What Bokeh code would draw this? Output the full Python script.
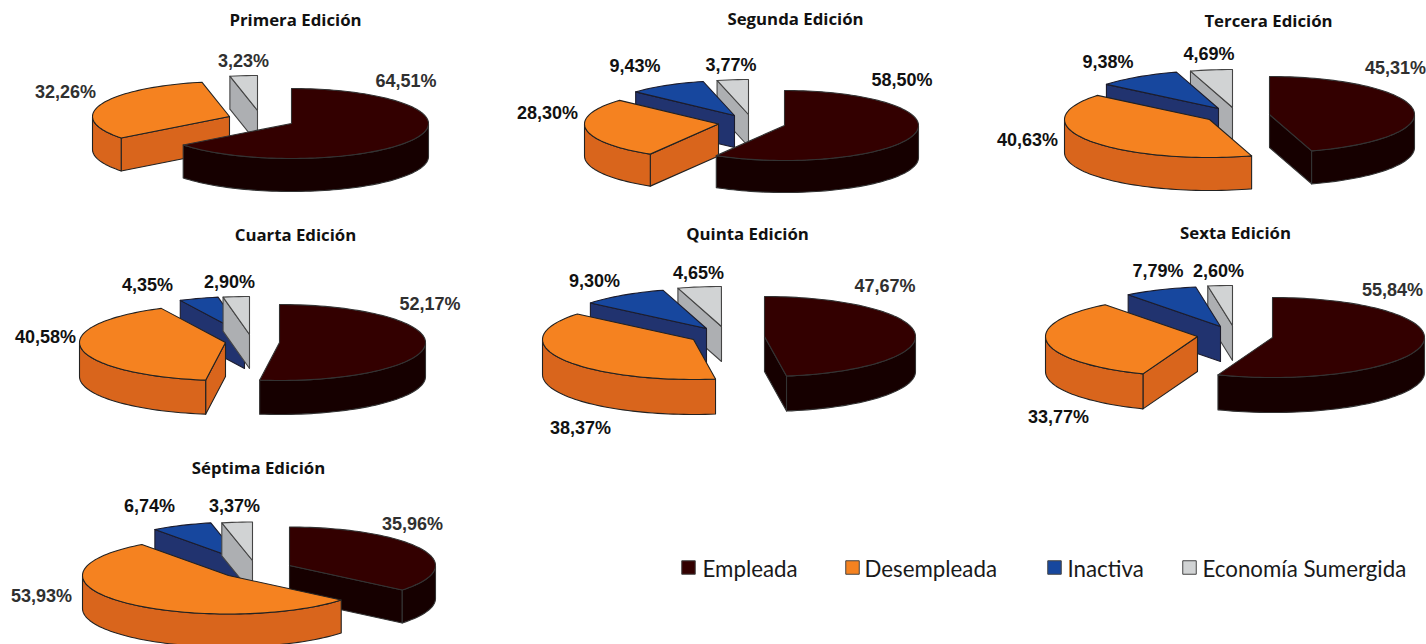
import math
from bokeh.plotting import figure
from bokeh.models import Range1d, ColumnDataSource
from bokeh.core.properties import value
from bokeh.embed import file_html
from bokeh.resources import INLINE

# ---- data -------------------------------------------------------------
editions = ["Primera Edición", "Segunda Edición", "Tercera Edición", "Cuarta Edición",
            "Quinta Edición", "Sexta Edición", "Séptima Edición"]
series = ["Empleada", "Desempleada", "Inactiva", "Economía Sumergida"]
empleada = [64.51, 58.50, 45.31, 52.17, 47.67, 55.84, 35.96]
desempleada = [32.26, 28.30, 40.63, 40.58, 38.37, 33.77, 53.93]
inactiva = [0.0, 9.43, 9.38, 4.35, 9.30, 7.79, 6.74]
sumergida = [3.23, 3.77, 4.69, 2.90, 4.65, 2.60, 3.37]

# ---- layout (window pixels) ---------------------------------------------
# ellipse radii and depth of each pie
radii = [(137, 35, 33), (134, 35, 32), (145, 38, 33), (146, 38, 34),
         (151, 40, 35), (152, 40, 35), (146, 38.5, 33)]
# apex of each exploded slice: empleada, desempleada, inactiva, sumergida
apexes = [
    [(291, 123), (229, 116), None, (257, 110)],
    [(784, 125), (718, 123.5), (734, 115), (748, 114)],
    [(1269, 114), (1209, 119), (1218, 108), (1232, 107)],
    [(279, 342), (225, 342), (244, 334), (249, 334)],
    [(764, 336), (693, 339), (706, 328), (721, 326)],
    [(1272, 337), (1197, 336), (1220, 326), (1232, 325)],
    [(289, 565), (228, 575), (241, 560), (252, 560)],
]
title_pos = [(295, 19), (795, 18), (1268, 20), (295, 234), (747, 233), (1235, 232), (258, 467)]
label_pos = [
    [(405.5, 80), (65, 91), None, (243, 60)],
    [(901.5, 79), (547, 112), (634.5, 65), (730.5, 64)],
    [(1395, 67), (1027, 139), (1107.5, 61), (1208.5, 53)],
    [(429.5, 303), (45, 336), (147, 284), (229, 281)],
    [(884.5, 285), (580, 427), (594, 280), (698, 272)],
    [(1392, 289), (1058, 416), (1157.5, 270), (1218, 270)],
    [(412, 523), (41, 595), (149, 505), (234, 505)],
]
# labels that are printed in a softer grey in the source, as (edition, series)
soft_labels = {(0, 0), (0, 1), (0, 3), (2, 0), (3, 0), (4, 0), (5, 0), (6, 0), (6, 1)}
top_col = ["#330000", "#F58220", "#17479E", "#D1D3D4"]
side_col = ["#160000", "#D9651C", "#21336F", "#ADAFB2"]
edge_col = ["#333333", "#222222", "#1c1c2c", "#444444"]
legend_square_x = [688, 852, 1054, 1189]
legend_text_x = [702, 864, 1067, 1202]
legend_y = 568


def pt(c, rx, ry, deg, dz=0):
    t = math.radians(deg)
    return (c[0] + rx * math.sin(t), c[1] - ry * math.cos(t) + dz)


def arc(c, rx, ry, a0, a1, dz=0):
    n = max(2, int(abs(a1 - a0) / 2) + 1)
    return [pt(c, rx, ry, a0 + (a1 - a0) * i / (n - 1), dz) for i in range(n)]


xs, ys, fills, lines = [], [], [], []


def add(poly, fill, line):
    xs.append([p[0] for p in poly])
    ys.append([p[1] for p in poly])
    fills.append(fill)
    lines.append(line)


for e in range(len(editions)):
    vals = [empleada[e], desempleada[e], inactiva[e], sumergida[e]]
    rx, ry, d = radii[e]
    spans, acc = [], 0.0
    for v in vals:
        spans.append((acc * 3.6, (acc + v) * 3.6))
        acc += v
    order = [i for i in range(4) if vals[i] > 0]
    order.sort(key=lambda i: apexes[e][i][1])
    for i in order:
        c = apexes[e][i]
        a0, a1 = spans[i]
        a1 = min(a1, 360.0)
        side, edge = side_col[i], edge_col[i]
        for ang, visible in ((a0, math.sin(math.radians(a0)) < -1e-6),
                             (a1, math.sin(math.radians(a1)) > 1e-6)):
            if visible:
                q = pt(c, rx, ry, ang)
                add([c, q, (q[0], q[1] + d), (c[0], c[1] + d)], side, edge)
        lo, hi = max(a0, 90), min(a1, 270)
        if hi > lo:
            top = arc(c, rx, ry, lo, hi)
            bot = arc(c, rx, ry, hi, lo, d)
            add(top + bot, side, edge)
        add([c] + arc(c, rx, ry, a0, a1), top_col[i], edge)

p = figure(width=1426, height=644, output_backend="svg", toolbar_location=None,
           x_range=Range1d(0, 1426), y_range=Range1d(644, 0),
           min_border=0, outline_line_color=None,
           background_fill_color="white", border_fill_color="white")
p.axis.visible = False
p.grid.visible = False

p.patches("xs", "ys", source=ColumnDataSource(dict(xs=xs, ys=ys, f=fills, l=lines)),
          fill_color="f", line_color="l", line_width=1.1, line_join="round")

# value labels
lx, ly, lt, lc = [], [], [], []
for e in range(len(editions)):
    vals = [empleada[e], desempleada[e], inactiva[e], sumergida[e]]
    for i in range(4):
        if label_pos[e][i] is not None:
            lx.append(label_pos[e][i][0])
            ly.append(label_pos[e][i][1])
            lt.append(f"{vals[i]:.2f}".replace(".", ",") + "%")
            lc.append("#303030" if (e, i) in soft_labels else "#111111")
p.text(lx, ly, text=lt, text_font=value("Liberation Sans"), text_font_style="bold",
       text_font_size="18px", text_color=lc, text_align="center", text_baseline="middle")

# titles
p.text([q[0] for q in title_pos], [q[1] for q in title_pos], text=editions,
       text_font=value("Open Sans"), text_font_style="bold", text_font_size="16.8px",
       text_color="#111111", text_align="center", text_baseline="middle")

# legend
p.scatter(legend_square_x, [legend_y - 1] * 4, marker="square", size=13.5,
          fill_color=top_col, line_color="#444444", line_width=1)
p.text(legend_text_x, [legend_y] * 4, text=series, text_font=value("Lato"),
       text_font_size="22.3px", text_color="#1a1a1a", text_align="left", text_baseline="middle")

open("out.html", "w").write(file_html(p, INLINE))
